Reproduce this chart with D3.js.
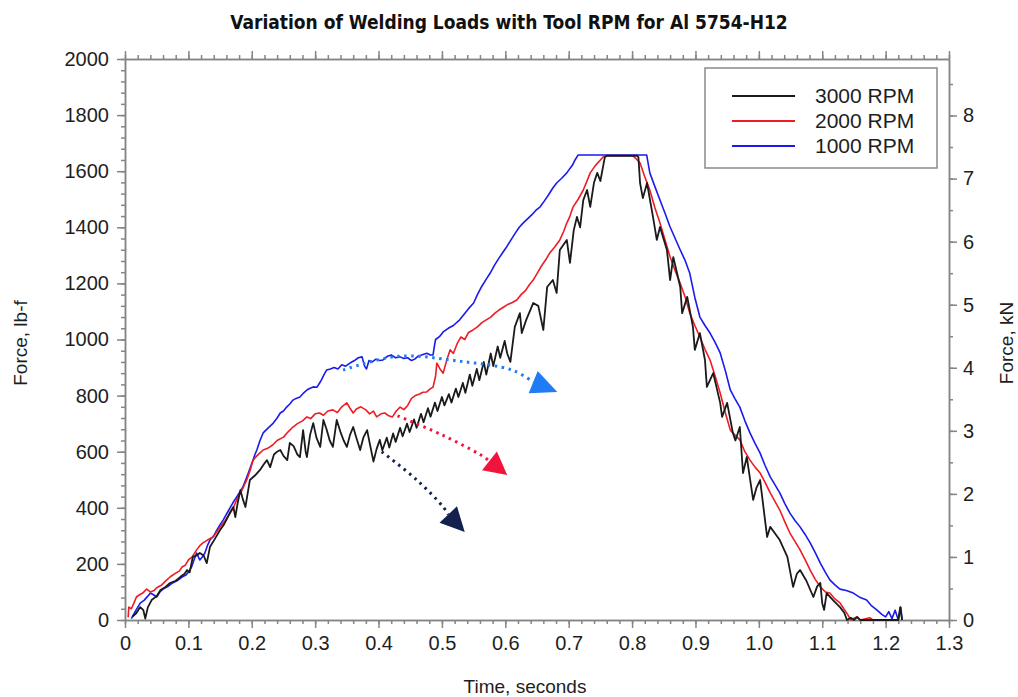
<!DOCTYPE html>
<html lang="en">
<head>
  <meta charset="utf-8">
  <title>Variation of Welding Loads with Tool RPM</title>
  <style>
    body { margin: 0; background: #fff; }
    svg { font-family: "Liberation Sans", Arial, sans-serif; }
    .axis path, .axis line { stroke: #858585; stroke-width: 1.5; }
    .axis text { fill: #1e1e1e; font-size: 20px; }
  </style>
</head>
<body>
  <svg id="chart" width="1018" height="697"></svg>

  <script src="https://d3js.org/d3.v7.min.js"></script>
  <script>
// [time (s), force (lb-f)]
const rpm3000 = [
  [0.012,12],[0.018,25],[0.024,46],[0.029,35],[0.032,5],[0.036,45],[0.042,71],[0.05,85],[0.056,107],[0.064,118],
  [0.071,132],[0.08,140],[0.087,153],[0.094,165],[0.098,178],[0.102,170],[0.107,225],[0.113,230],[0.118,239],[0.124,230],
  [0.129,203],[0.134,260],[0.142,290],[0.15,321],[0.156,340],[0.16,357],[0.166,385],[0.171,403],[0.174,367],[0.178,420],
  [0.182,463],[0.186,430],[0.19,403],[0.197,499],[0.205,515],[0.213,535],[0.219,555],[0.224,570],[0.229,545],[0.235,590],
  [0.24,600],[0.245,606],[0.25,585],[0.256,570],[0.26,631],[0.266,620],[0.272,590],[0.276,581],[0.281,677],[0.285,600],
  [0.287,581],[0.292,660],[0.297,702],[0.302,650],[0.308,617],[0.313,713],[0.318,680],[0.323,640],[0.328,617],[0.334,713],
  [0.34,670],[0.345,640],[0.35,617],[0.355,660],[0.36,688],[0.365,650],[0.371,606],[0.376,650],[0.382,677],[0.387,620],
  [0.392,565],[0.397,610],[0.402,642],[0.406,605],[0.413,650],[0.417,615],[0.423,665],[0.427,635],[0.434,685],[0.438,655],
  [0.445,700],[0.449,670],[0.456,715],[0.46,685],[0.467,735],[0.471,705],[0.478,755],[0.482,725],[0.489,775],[0.493,745],
  [0.5,795],[0.504,765],[0.511,805],[0.515,775],[0.522,825],[0.526,795],[0.533,845],[0.537,810],[0.544,875],[0.548,835],
  [0.555,895],[0.559,855],[0.566,920],[0.57,875],[0.577,950],[0.581,905],[0.588,975],[0.592,935],[0.599,995],[0.603,950],
  [0.608,920],[0.615,1045],[0.623,1094],[0.626,1023],[0.633,1070],[0.644,1130],[0.652,1120],[0.66,1034],[0.666,1187],[0.675,1212],
  [0.681,1166],[0.686,1319],[0.697,1355],[0.702,1273],[0.708,1390],[0.713,1437],[0.718,1400],[0.723,1497],[0.729,1533],[0.734,1473],
  [0.74,1560],[0.745,1594],[0.75,1565],[0.757,1650],[0.76,1655],[0.808,1655],[0.81,1650],[0.8126,1558],[0.817,1504],[0.8236,1558],
  [0.833,1437],[0.839,1355],[0.844,1401],[0.855,1319],[0.86,1212],[0.865,1294],[0.876,1187],[0.879,1094],[0.887,1152],[0.896,1045],
  [0.899,963],[0.907,1023],[0.915,927],[0.918,831],[0.928,880],[0.939,774],[0.942,724],[0.95,774],[0.959,667],[0.963,640],
  [0.97,688],[0.975,524],[0.981,581],[0.991,428],[0.996,470],[1.002,499],[1.013,296],[1.018,332],[1.025,310],[1.033,285],
  [1.045,225],[1.054,118],[1.06,165],[1.065,178],[1.075,140],[1.086,82],[1.092,120],[1.097,132],[1.1,60],[1.103,36],
  [1.107,96],[1.117,71],[1.128,46],[1.135,25],[1.139,0],[1.145,8],[1.15,0],[1.155,10],[1.16,0],[1.22,0],
  [1.223,46],[1.226,0]
];

const rpm2000 = [
  [0.005,10],[0.006,46],[0.01,40],[0.014,60],[0.018,82],[0.023,90],[0.028,96],[0.034,110],[0.04,100],[0.046,105],
  [0.05,115],[0.058,125],[0.066,143],[0.072,155],[0.08,167],[0.086,175],[0.09,189],[0.095,195],[0.1,214],[0.106,225],
  [0.113,250],[0.118,265],[0.123,275],[0.13,285],[0.139,296],[0.145,315],[0.15,332],[0.158,355],[0.166,381],[0.171,400],
  [0.176,428],[0.184,460],[0.192,499],[0.197,530],[0.202,570],[0.208,585],[0.213,596],[0.218,606],[0.225,612],[0.233,624],
  [0.24,640],[0.25,652],[0.257,670],[0.265,688],[0.272,700],[0.28,710],[0.287,724],[0.293,718],[0.3,735],[0.307,738],
  [0.313,730],[0.32,745],[0.328,749],[0.335,740],[0.342,760],[0.35,774],[0.355,755],[0.36,738],[0.365,752],[0.372,760],
  [0.38,749],[0.386,735],[0.392,745],[0.397,724],[0.404,735],[0.41,738],[0.416,728],[0.422,724],[0.428,745],[0.434,759],
  [0.44,750],[0.446,765],[0.452,790],[0.458,800],[0.464,805],[0.47,812],[0.476,813],[0.482,825],[0.486,830],[0.49,870],
  [0.492,916],[0.497,895],[0.502,880],[0.508,930],[0.513,963],[0.518,950],[0.524,985],[0.53,1009],[0.536,1000],[0.542,1025],
  [0.549,1034],[0.556,1045],[0.563,1060],[0.57,1070],[0.577,1080],[0.584,1095],[0.59,1105],[0.597,1115],[0.604,1125],[0.611,1132],
  [0.618,1141],[0.625,1160],[0.632,1175],[0.638,1195],[0.644,1212],[0.65,1235],[0.657,1262],[0.664,1285],[0.67,1308],[0.678,1330],
  [0.686,1355],[0.692,1385],[0.697,1415],[0.702,1440],[0.707,1473],[0.715,1500],[0.723,1533],[0.728,1560],[0.734,1594],[0.742,1620],
  [0.75,1640],[0.756,1655],[0.801,1655],[0.806,1645],[0.8126,1629],[0.82,1580],[0.828,1533],[0.836,1470],[0.844,1415],[0.852,1355],
  [0.86,1294],[0.868,1245],[0.876,1200],[0.884,1150],[0.891,1094],[0.899,1050],[0.907,1009],[0.915,965],[0.923,927],[0.931,870],
  [0.939,809],[0.947,740],[0.955,677],[0.962,660],[0.97,642],[0.978,600],[0.986,570],[0.994,545],[1.002,524],[1.01,490],
  [1.018,453],[1.026,420],[1.033,392],[1.041,350],[1.049,310],[1.057,280],[1.065,250],[1.073,215],[1.081,178],[1.089,145],
  [1.097,118],[1.105,100],[1.112,96],[1.12,75],[1.128,61],[1.134,40],[1.14,20],[1.145,0],[1.155,12],[1.16,0],
  [1.175,8],[1.18,0],[1.19,0]
];

const rpm1000 = [
  [0.01,5],[0.016,30],[0.024,60],[0.03,70],[0.036,85],[0.04,96],[0.045,90],[0.05,82],[0.055,100],[0.06,110],
  [0.068,120],[0.075,132],[0.082,140],[0.09,153],[0.096,160],[0.1,170],[0.105,189],[0.109,215],[0.113,239],[0.118,214],
  [0.122,225],[0.126,239],[0.13,265],[0.134,285],[0.14,300],[0.145,321],[0.15,340],[0.155,357],[0.162,385],[0.17,417],
  [0.178,445],[0.186,474],[0.194,520],[0.202,570],[0.205,590],[0.208,606],[0.213,640],[0.218,667],[0.226,685],[0.234,702],
  [0.24,720],[0.245,738],[0.25,745],[0.255,759],[0.26,770],[0.265,784],[0.27,790],[0.276,795],[0.282,810],[0.287,820],
  [0.292,826],[0.297,831],[0.303,830],[0.307,845],[0.31,856],[0.314,875],[0.318,891],[0.324,895],[0.33,900],[0.336,895],
  [0.342,910],[0.348,905],[0.355,916],[0.362,925],[0.368,935],[0.374,938],[0.378,905],[0.381,895],[0.385,925],[0.39,920],
  [0.396,930],[0.402,925],[0.407,927],[0.414,940],[0.42,945],[0.427,935],[0.434,938],[0.44,932],[0.446,935],[0.452,925],
  [0.457,930],[0.462,940],[0.468,945],[0.476,951],[0.482,945],[0.486,945],[0.488,975],[0.49,1000],[0.496,1010],[0.502,1027],
  [0.51,1040],[0.518,1050],[0.528,1070],[0.535,1090],[0.542,1110],[0.55,1130],[0.556,1160],[0.563,1190],[0.57,1215],[0.576,1236],
  [0.583,1265],[0.59,1290],[0.596,1310],[0.602,1330],[0.609,1355],[0.616,1380],[0.622,1400],[0.628,1415],[0.635,1430],[0.642,1445],
  [0.648,1460],[0.655,1473],[0.662,1495],[0.668,1515],[0.675,1540],[0.681,1558],[0.689,1575],[0.697,1594],[0.702,1610],[0.706,1622],
  [0.71,1640],[0.715,1658],[0.823,1658],[0.828,1594],[0.836,1545],[0.844,1497],[0.852,1450],[0.86,1401],[0.868,1360],[0.876,1319],
  [0.884,1280],[0.891,1236],[0.899,1150],[0.907,1080],[0.915,1050],[0.923,1023],[0.931,990],[0.939,952],[0.947,890],[0.955,820],
  [0.962,790],[0.97,759],[0.978,710],[0.986,667],[0.994,630],[1.002,595],[1.01,550],[1.018,510],[1.026,480],[1.033,453],
  [1.041,415],[1.049,381],[1.057,355],[1.065,332],[1.073,305],[1.081,275],[1.089,240],[1.097,203],[1.105,170],[1.112,143],
  [1.12,125],[1.128,110],[1.138,105],[1.149,96],[1.16,80],[1.17,71],[1.178,50],[1.186,36],[1.194,20],[1.2,11],
  [1.205,30],[1.21,5],[1.215,35],[1.22,0],[1.224,45],[1.226,0]
];

const seriesNames = ["3000 RPM", "2000 RPM", "1000 RPM"];
const seriesColors = ["#1a1a1a", "#ee1c24", "#1a1aee"];

// dotted trend arrows: path points, then arrow tip (time, lb-f)
const arrowBlue = [[0.344,891],[0.43,940],[0.53,922],[0.612,890],[0.644,848]];
const arrowRed = [[0.43,728],[0.5,660],[0.56,590],[0.575,567]];
const arrowNavy = [[0.405,600],[0.46,500],[0.502,403],[0.51,376]];
const arrowTips = [[0.682,813],[0.603,517],[0.536,314]];
const arrowColors = ["#1f7cf5", "#f0143c", "#14214f"];

const xMajor = d3.range(0, 14).map(i => i / 10);
const xMinor = d3.range(0, 66).map(i => i / 50);
const yMajor = d3.range(0, 2001, 200);
const yMinor = d3.range(0, 2001, 40);
const kNMajor = d3.range(0, 9);
const kNMinor = d3.range(0, 18).map(i => i / 2);

const LBF_TO_KN = 0.0044482;

const svg = d3.select("#chart");
const plotLeft = 125, plotRight = 949, plotTop = 59, plotBottom = 620;

const x = d3.scaleLinear().domain([0, 1.3]).range([plotLeft, plotRight]);
const y = d3.scaleLinear().domain([0, 2000]).range([plotBottom, plotTop]);
const yKN = d3.scaleLinear().domain([0, 2000 * LBF_TO_KN]).range([plotBottom, plotTop]);

// axes: minor ticks first, then majors with labels
svg.append("g").attr("class", "axis").attr("transform", `translate(0,${plotBottom})`)
  .call(d3.axisBottom(x).tickValues(xMinor).tickSize(4).tickSizeOuter(0).tickFormat(""));
svg.append("g").attr("class", "axis").attr("transform", `translate(0,${plotBottom})`)
  .call(d3.axisBottom(x).tickValues(xMajor).tickSize(8).tickSizeOuter(0).tickPadding(8)
    .tickFormat(d => d === 0 ? "0" : d3.format(".1f")(d)));

svg.append("g").attr("class", "axis").attr("transform", `translate(0,${plotTop})`)
  .call(d3.axisTop(x).tickValues(xMinor).tickSize(4).tickSizeOuter(0).tickFormat(""));
svg.append("g").attr("class", "axis").attr("transform", `translate(0,${plotTop})`)
  .call(d3.axisTop(x).tickValues(xMajor).tickSize(8).tickSizeOuter(0).tickFormat(""));

svg.append("g").attr("class", "axis").attr("transform", `translate(${plotLeft},0)`)
  .call(d3.axisLeft(y).tickValues(yMinor).tickSize(4).tickSizeOuter(0).tickFormat(""));
svg.append("g").attr("class", "axis").attr("transform", `translate(${plotLeft},0)`)
  .call(d3.axisLeft(y).tickValues(yMajor).tickSize(8).tickSizeOuter(0).tickPadding(8)
    .tickFormat(d3.format("d")));

svg.append("g").attr("class", "axis").attr("transform", `translate(${plotRight},0)`)
  .call(d3.axisRight(yKN).tickValues(kNMinor).tickSize(4).tickSizeOuter(0).tickFormat(""));
svg.append("g").attr("class", "axis").attr("transform", `translate(${plotRight},0)`)
  .call(d3.axisRight(yKN).tickValues(kNMajor).tickSize(8).tickSizeOuter(0).tickPadding(6)
    .tickFormat(d3.format("d")));

// data lines, blue under red under black
const line = d3.line().x(d => x(d[0])).y(d => y(d[1]));
const allSeries = [rpm3000, rpm2000, rpm1000];
[2, 1, 0].forEach(i => {
  svg.append("path")
    .attr("d", line(allSeries[i]))
    .attr("fill", "none")
    .attr("stroke", seriesColors[i])
    .attr("stroke-width", i === 0 ? 1.8 : 1.6)
    .attr("stroke-linejoin", "round");
});

// dotted arrows with triangle heads
const curve = d3.line().x(d => x(d[0])).y(d => y(d[1])).curve(d3.curveCatmullRom);
[arrowBlue, arrowRed, arrowNavy].forEach((pts, i) => {
  svg.append("path")
    .attr("d", curve(pts))
    .attr("fill", "none")
    .attr("stroke", arrowColors[i])
    .attr("stroke-width", 3)
    .attr("stroke-dasharray", "2.5,4.5");

  const base = pts[pts.length - 1], tip = arrowTips[i];
  const bx = x(base[0]), by = y(base[1]), tx = x(tip[0]), ty = y(tip[1]);
  const len = Math.hypot(tx - bx, ty - by);
  const nx = -(ty - by) / len, ny = (tx - bx) / len;
  const hw = 12;
  svg.append("path")
    .attr("d", `M${tx},${ty}L${bx + nx * hw},${by + ny * hw}L${bx - nx * hw},${by - ny * hw}Z`)
    .attr("fill", arrowColors[i]);
});

// legend
const lg = svg.append("g");
lg.append("rect")
  .attr("x", 705).attr("y", 68).attr("width", 232).attr("height", 100)
  .attr("fill", "#fff").attr("stroke", "#8a8a8a").attr("stroke-width", 1.5);
seriesNames.forEach((name, i) => {
  const ly = 96 + i * 25;
  lg.append("line")
    .attr("x1", 732).attr("x2", 795).attr("y1", ly).attr("y2", ly)
    .attr("stroke", seriesColors[i]).attr("stroke-width", 2);
  lg.append("text")
    .attr("x", 815).attr("y", ly + 7)
    .attr("font-size", 21).attr("fill", "#1e1e1e")
    .text(name);
});

// titles
svg.append("text")
  .attr("x", 509).attr("y", 29)
  .attr("text-anchor", "middle")
  .attr("font-family", "'Liberation Sans Narrow', 'DejaVu Sans Condensed', sans-serif")
  .attr("font-weight", "bold").attr("font-size", 19).attr("fill", "#111")
  .text("Variation of Welding Loads with Tool RPM for Al 5754-H12");

svg.append("text")
  .attr("x", 525).attr("y", 693)
  .attr("text-anchor", "middle").attr("font-size", 19).attr("fill", "#1e1e1e")
  .text("Time, seconds");

svg.append("text")
  .attr("transform", "translate(27,343) rotate(-90)")
  .attr("text-anchor", "middle").attr("font-size", 19).attr("fill", "#1e1e1e")
  .text("Force, lb-f");

svg.append("text")
  .attr("transform", "translate(1013,343) rotate(-90)")
  .attr("text-anchor", "middle").attr("font-size", 19).attr("fill", "#1e1e1e")
  .text("Force, kN");
  </script>
</body>
</html>
